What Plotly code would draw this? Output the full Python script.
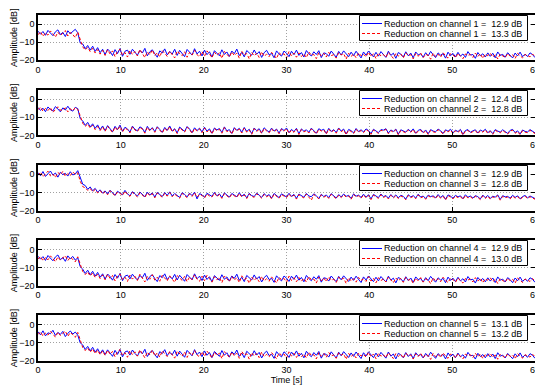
import numpy as np
import plotly.graph_objects as go

# time grid (s)
t = np.round(np.arange(0, 60.0001, 0.3), 2)

ch1_blue = [-3.9,-5.6,-4.1,-6.2,-3.5,-5.0,-6.4,-4.3,-3.2,-5.8,-4.6,-6.9,-3.7,-5.3,-4.0,-2.9,-4.8,
 -10.5,-11.0,-13.6,-11.8,-14.4,-12.2,-15.1,-13.0,-15.8,-13.9,
 -16.9,-13.8,-15.2,-17.4,-14.1,-16.3,-13.5,-17.8,-15.0,-14.4,
 -16.7,-13.9,-15.8,-17.2,-14.6,-16.0,-13.4,-17.5,-15.3,-14.2,
 -16.4,-18.3,-14.8,-15.9,-13.7,-17.0,-15.1,-16.6,-13.9,-17.3,
 -14.5,-16.2,-18.0,-14.0,-15.7,-17.1,-13.6,-16.5,-15.0,-17.6,
 -14.4,-16.9,-15.3,-18.2,-14.7,-16.1,-17.5,-14.2,-16.8,-15.4,
 -17.9,-14.9,-16.3,-13.8,-17.4,-15.6,-18.1,-14.6,-16.0,-17.2,
 -14.3,-16.7,-15.2,-18.4,-15.8,-14.5,-17.0,-16.2,-18.6,-14.8,
 -16.5,-17.7,-14.9,-16.1,-18.0,-15.0,-16.9,-14.4,-17.3,-15.7,
 -18.2,-14.6,-16.4,-17.6,-15.3,-16.8,-14.7,-18.5,-15.9,-16.3,
 -17.8,-14.9,-16.6,-18.3,-15.1,-17.1,-14.8,-16.7,-18.0,-15.5,
 -17.4,-15.0,-16.9,-18.7,-15.4,-17.2,-14.9,-16.5,-18.1,-15.6,
 -17.7,-15.2,-16.8,-18.4,-15.0,-17.3,-16.1,-18.9,-15.7,-16.6,
 -18.2,-15.3,-17.5,-16.0,-18.6,-15.4,-17.0,-16.4,-18.3,-15.8,
 -17.6,-15.1,-16.9,-18.5,-15.9,-17.2,-16.3,-18.8,-15.5,-17.4,
 -16.2,-18.1,-15.6,-17.7,-16.5,-18.4,-15.2,-17.1,-16.8,-18.9,
 -15.7,-17.5,-16.4,-18.2,-15.9,-17.8,-16.1,-18.6,-15.4,-17.3,
 -16.7,-18.3,-15.8,-17.0,-18.7,-16.0,-17.6,-15.5,-18.0,-16.6,
 -17.9,-15.9,-16.8,-18.5]
ch1_red = [-5.9,-4.2,-6.8,-4.9,-6.1,-3.8,-5.5,-7.2,-4.5,-6.3,-5.0,-3.6,-6.6,-4.7,-5.8,-7.5,-4.4,
 -8.0,-12.6,-14.3,-12.9,-15.2,-13.4,-16.0,-14.1,-16.6,-14.5,
 -17.3,-14.2,-16.5,-14.8,-17.9,-15.1,-13.9,-17.0,-15.7,-18.2,
 -14.6,-16.8,-15.2,-17.6,-14.0,-16.3,-18.5,-15.4,-16.9,-14.3,
 -17.4,-15.8,-18.1,-14.7,-16.2,-17.8,-15.0,-16.6,-18.7,-14.9,
 -16.4,-17.5,-15.3,-18.3,-15.6,-17.1,-14.5,-16.9,-18.0,-15.2,
 -17.7,-14.8,-16.5,-18.6,-15.5,-17.2,-15.9,-18.9,-15.1,-16.7,
 -18.2,-15.4,-17.4,-16.0,-18.8,-15.0,-17.0,-16.3,-19.2,-15.7,
 -17.5,-16.1,-18.4,-15.3,-17.8,-16.6,-18.0,-15.6,-17.3,-19.0,
 -15.8,-17.1,-16.4,-18.7,-15.2,-17.6,-16.0,-18.3,-15.9,-17.9,
 -16.5,-18.5,-15.4,-17.2,-16.8,-19.1,-15.7,-17.7,-16.2,-18.2,
 -15.6,-17.4,-16.9,-18.8,-15.8,-17.0,-16.3,-19.3,-16.1,-17.8,
 -16.6,-18.6,-15.9,-17.5,-16.7,-18.1,-15.5,-17.9,-16.4,-19.0,
 -16.0,-17.6,-16.8,-18.4,-15.7,-17.3,-18.9,-16.2,-17.7,-16.5,
 -18.7,-15.9,-17.4,-16.9,-19.2,-16.3,-17.8,-16.0,-18.5,-16.7,
 -17.2,-19.4,-16.1,-17.9,-16.6,-18.3,-15.8,-17.5,-18.8,-16.4,
 -17.0,-18.6,-16.2,-17.7,-19.1,-16.5,-17.3,-16.8,-18.4,-16.0,
 -17.9,-16.4,-18.9,-16.7,-17.4,-16.1,-18.2,-17.0,-19.3,-16.6,
 -17.6,-18.5,-16.3,-17.8,-16.9,-19.0,-16.2,-17.5,-18.7,-16.8,
 -17.3,-18.1,-16.5,-17.9]
ch2_blue = [-4.6,-6.2,-5.0,-6.9,-4.3,-5.7,-6.5,-4.1,-5.4,-7.0,-4.8,-6.0,-3.9,-5.9,-6.6,-4.5,-5.2,
 -10.8,-12.0,-14.5,-12.8,-15.3,-13.6,-16.1,-14.2,-16.9,-14.8,
 -17.4,-14.6,-16.2,-18.0,-15.0,-16.8,-14.3,-17.7,-15.5,-16.4,
 -18.2,-14.9,-16.6,-17.5,-15.3,-16.1,-18.4,-15.0,-17.1,-15.7,
 -17.9,-15.2,-16.7,-18.3,-15.6,-17.2,-14.8,-17.6,-16.3,-18.6,
 -15.4,-16.9,-17.8,-15.1,-16.5,-18.5,-15.8,-17.3,-16.0,-18.1,
 -15.5,-17.7,-16.4,-18.8,-15.9,-17.0,-16.2,-18.4,-15.3,-17.5,
 -16.8,-18.9,-15.7,-17.2,-16.1,-18.3,-15.6,-17.8,-16.6,-19.0,
 -15.9,-17.4,-16.3,-18.6,-15.8,-17.1,-18.2,-16.0,-17.6,-16.5,
 -18.7,-16.2,-17.3,-15.9,-18.5,-16.7,-17.9,-16.1,-19.1,-16.4,
 -17.7,-16.9,-18.3,-16.0,-17.5,-18.8,-16.3,-17.2,-16.6,-18.9,
 -16.1,-17.8,-16.8,-18.4,-15.9,-17.6,-16.5,-19.2,-16.7,-17.4,
 -18.6,-16.2,-17.9,-16.9,-18.1,-16.4,-17.3,-19.0,-16.6,-17.7,
 -18.5,-16.8,-17.1,-16.3,-18.7,-17.0,-17.8,-16.5,-19.3,-16.9,
 -17.5,-18.2,-16.6,-17.9,-16.4,-18.8,-17.2,-16.7,-18.4,-17.0,
 -19.1,-16.8,-17.6,-18.0,-16.5,-17.4,-18.9,-16.9,-17.7,-16.6,
 -18.6,-17.1,-17.9,-16.7,-19.4,-17.3,-16.8,-18.3,-17.5,-16.9,
 -18.7,-17.0,-17.8,-16.6,-18.5,-17.4,-19.0,-16.8,-17.6,-18.2,
 -16.9,-17.7,-18.9,-17.2,-16.7,-18.4,-17.5,-19.2,-17.0,-17.8,
 -18.1,-16.8,-17.6,-18.6]
ch2_red = [-5.8,-4.4,-6.7,-5.1,-6.3,-4.7,-7.3,-5.5,-4.2,-6.1,-5.9,-4.8,-7.0,-5.3,-6.5,-4.6,-5.7,
 -9.2,-13.3,-15.0,-13.7,-15.9,-14.4,-16.8,-15.1,-17.3,-15.4,
 -17.8,-15.0,-16.7,-18.4,-15.4,-17.2,-14.9,-18.1,-16.0,-16.8,
 -18.6,-15.3,-17.0,-17.9,-15.7,-16.5,-18.8,-15.5,-17.5,-16.1,
 -18.3,-15.6,-17.1,-18.7,-16.0,-17.6,-15.2,-18.0,-16.7,-19.0,
 -15.8,-17.3,-18.2,-15.5,-16.9,-18.9,-16.2,-17.7,-16.4,-18.5,
 -15.9,-18.1,-16.8,-19.2,-16.3,-17.4,-16.6,-18.8,-15.7,-17.9,
 -17.2,-19.3,-16.1,-17.6,-16.5,-18.7,-16.0,-18.2,-17.0,-19.4,
 -16.3,-17.8,-16.7,-19.0,-16.2,-17.5,-18.6,-16.4,-18.0,-16.9,
 -19.1,-16.6,-17.7,-16.3,-18.9,-17.1,-18.3,-16.5,-19.5,-16.8,
 -18.1,-17.3,-18.7,-16.4,-17.9,-19.2,-16.7,-17.6,-17.0,-19.3,
 -16.5,-18.2,-17.2,-18.8,-16.3,-18.0,-16.9,-19.6,-17.1,-17.8,
 -19.0,-16.6,-18.3,-17.3,-18.5,-16.8,-17.7,-19.4,-17.0,-18.1,
 -18.9,-17.2,-17.5,-16.7,-19.1,-17.4,-18.2,-16.9,-19.7,-17.3,
 -17.9,-18.6,-17.0,-18.3,-16.8,-19.2,-17.6,-17.1,-18.8,-17.4,
 -19.5,-17.2,-18.0,-18.4,-16.9,-17.8,-19.3,-17.3,-18.1,-17.0,
 -19.0,-17.5,-18.3,-17.1,-19.8,-17.7,-17.2,-18.7,-17.9,-17.3,
 -19.1,-17.4,-18.2,-17.0,-18.9,-17.8,-19.4,-17.2,-18.0,-18.6,
 -17.3,-18.1,-19.3,-17.6,-17.1,-18.8,-17.9,-19.6,-17.4,-18.2,
 -18.5,-17.2,-18.0,-19.0]
ch3_blue = [0.9,-0.8,1.5,-1.2,0.3,1.8,-0.5,0.7,-1.6,1.1,-0.2,0.5,-1.0,1.4,-0.4,0.2,2.0,
 -2.0,-5.5,-6.2,-8.3,-7.0,-9.1,-7.8,-9.9,-8.6,-10.4,
 -9.2,-10.9,-8.8,-10.5,-11.6,-9.4,-10.2,-11.3,-8.9,-10.8,
 -11.9,-9.6,-10.7,-12.1,-9.8,-11.0,-12.4,-9.9,-11.4,-10.3,
 -12.6,-10.0,-11.2,-12.3,-10.1,-11.7,-9.7,-12.0,-10.6,-11.5,
 -12.8,-10.2,-11.1,-12.5,-10.4,-11.8,-9.9,-13.6,-10.7,-11.3,
 -12.7,-10.5,-11.6,-12.2,-10.0,-11.9,-10.8,-12.9,-10.3,-11.4,
 -12.6,-10.6,-11.7,-12.4,-10.2,-12.1,-11.0,-13.0,-10.5,-11.8,
 -12.3,-10.4,-11.5,-12.8,-10.7,-12.0,-11.2,-13.2,-10.6,-11.6,
 -12.9,-10.8,-11.9,-12.5,-10.5,-12.2,-11.1,-13.3,-10.9,-11.7,
 -12.7,-10.6,-12.0,-12.4,-10.8,-11.8,-13.5,-11.0,-12.3,-11.4,
 -12.9,-10.7,-11.9,-13.1,-11.2,-12.5,-10.9,-12.2,-11.6,-13.4,
 -10.8,-12.1,-11.5,-12.8,-11.0,-12.6,-11.3,-13.6,-11.1,-12.0,
 -12.9,-10.9,-12.4,-11.7,-13.2,-11.2,-12.7,-11.4,-13.0,-11.6,
 -12.2,-13.7,-11.3,-12.5,-11.8,-13.1,-11.0,-12.6,-12.0,-13.4,
 -11.5,-12.3,-11.9,-13.0,-11.2,-12.8,-11.7,-13.8,-11.4,-12.1,
 -13.2,-11.6,-12.5,-11.9,-13.5,-11.3,-12.7,-12.0,-13.1,-11.8,
 -12.4,-13.6,-11.5,-12.9,-11.7,-13.3,-12.1,-12.6,-11.4,-13.9,
 -11.8,-12.5,-12.2,-13.2,-11.6,-12.8,-11.9,-13.5,-12.3,-11.7,
 -13.0,-12.0,-12.6,-13.4]
ch3_red = [-0.6,1.2,-1.4,0.5,1.7,-0.9,0.1,-1.8,1.0,-0.3,1.6,-1.1,0.4,-0.7,1.3,-0.1,0.8,
 -3.9,-6.8,-7.5,-8.9,-7.9,-9.6,-8.4,-10.3,-9.0,-10.8,
 -9.6,-11.3,-9.1,-10.8,-11.9,-9.8,-10.5,-11.7,-9.3,-11.1,
 -12.2,-10.0,-11.0,-12.5,-10.2,-11.4,-12.8,-10.3,-11.8,-10.7,
 -13.0,-10.4,-11.6,-12.7,-10.5,-12.1,-10.1,-12.4,-11.0,-11.9,
 -13.2,-10.6,-11.5,-12.9,-10.8,-12.2,-10.3,-12.6,-11.1,-11.7,
 -13.1,-10.9,-12.0,-12.6,-10.4,-12.3,-11.2,-13.3,-10.7,-11.8,
 -13.0,-11.0,-12.1,-12.8,-10.6,-12.5,-11.4,-13.4,-10.9,-12.2,
 -12.7,-10.8,-11.9,-13.2,-11.1,-12.4,-11.6,-13.6,-11.0,-12.0,
 -13.3,-11.2,-12.3,-12.9,-10.9,-12.6,-11.5,-13.7,-11.3,-12.1,
 -13.1,-11.0,-12.4,-14.3,-11.2,-12.2,-13.5,-11.4,-12.7,-11.8,
 -13.3,-11.1,-12.3,-13.5,-11.6,-12.9,-11.3,-12.6,-12.0,-13.8,
 -11.2,-12.5,-11.9,-13.2,-11.4,-13.0,-11.7,-14.0,-11.5,-12.4,
 -13.3,-11.3,-12.8,-12.1,-13.6,-11.6,-13.1,-11.8,-13.4,-12.0,
 -12.6,-14.1,-11.7,-12.9,-12.2,-13.5,-11.4,-13.0,-12.4,-13.8,
 -11.9,-12.7,-12.3,-13.4,-11.6,-13.2,-12.1,-14.2,-11.8,-12.5,
 -13.6,-12.0,-12.9,-12.3,-13.9,-11.7,-13.1,-12.4,-13.5,-12.2,
 -12.8,-14.0,-11.9,-13.3,-12.1,-13.7,-12.5,-13.0,-11.8,-14.3,
 -12.2,-12.9,-12.6,-13.6,-12.0,-13.2,-12.3,-13.9,-12.7,-12.1,
 -13.4,-12.4,-13.0,-13.8]
ch4_blue = [-3.8,-5.4,-4.0,-6.1,-3.4,-4.9,-6.3,-4.2,-3.1,-5.7,-4.5,-6.6,-3.6,-5.2,-3.9,-5.9,-4.7,
 -9.6,-10.9,-13.3,-11.5,-14.0,-12.1,-14.8,-12.7,-15.4,-13.5,
 -16.4,-13.6,-15.0,-17.0,-13.9,-15.9,-13.3,-17.3,-14.8,-14.2,
 -16.3,-13.7,-15.5,-16.9,-14.4,-15.7,-13.2,-17.1,-15.0,-14.0,
 -16.1,-17.8,-14.5,-15.6,-13.5,-16.7,-14.9,-16.3,-13.8,-16.9,
 -14.3,-15.9,-17.6,-13.9,-15.4,-16.8,-13.5,-16.2,-14.8,-17.2,
 -14.2,-16.6,-15.1,-17.9,-14.5,-15.8,-17.1,-14.0,-16.5,-15.2,
 -17.5,-14.7,-16.0,-13.7,-17.1,-15.4,-17.8,-14.4,-15.8,-16.9,
 -14.1,-16.4,-15.0,-18.0,-15.6,-14.3,-16.7,-16.0,-18.2,-14.6,
 -16.2,-17.4,-14.7,-15.9,-17.7,-14.8,-16.6,-14.2,-17.0,-15.5,
 -17.9,-14.4,-16.1,-17.3,-15.1,-16.5,-14.5,-18.1,-15.7,-16.0,
 -17.5,-14.7,-16.3,-17.9,-14.9,-16.8,-14.6,-16.4,-17.7,-15.3,
 -17.1,-14.8,-16.6,-18.3,-15.2,-16.9,-14.7,-16.2,-17.8,-15.4,
 -17.4,-15.0,-16.5,-18.0,-14.8,-17.0,-15.9,-18.5,-15.5,-16.3,
 -17.9,-15.1,-17.2,-15.8,-18.2,-15.2,-16.7,-16.1,-18.0,-15.6,
 -17.3,-14.9,-16.6,-18.1,-15.7,-16.9,-16.0,-18.4,-15.3,-17.1,
 -15.9,-17.8,-15.4,-17.4,-16.2,-18.0,-15.0,-16.8,-16.5,-18.6,
 -15.5,-17.2,-16.1,-17.9,-15.7,-17.5,-15.8,-18.3,-15.2,-17.0,
 -16.4,-18.0,-15.6,-16.7,-18.4,-15.8,-17.3,-15.3,-17.7,-16.3,
 -17.6,-15.7,-16.5,-18.2]
ch4_red = [-5.4,-3.9,-6.3,-4.5,-5.8,-3.6,-5.1,-6.8,-4.2,-5.9,-4.7,-3.5,-6.2,-4.4,-5.5,-6.9,-4.1,
 -7.7,-12.2,-13.9,-12.5,-14.7,-13.0,-15.5,-13.7,-16.1,-14.1,
 -16.8,-13.9,-16.0,-14.4,-17.4,-14.7,-13.6,-16.6,-15.3,-17.7,
 -14.3,-16.4,-14.8,-17.2,-13.7,-15.9,-18.0,-15.0,-16.5,-14.0,
 -17.0,-15.4,-17.6,-14.3,-15.8,-17.4,-14.6,-16.2,-18.2,-14.5,
 -16.0,-17.1,-14.9,-17.8,-15.2,-16.7,-14.1,-16.5,-17.6,-14.8,
 -17.3,-14.4,-16.1,-18.1,-15.1,-16.8,-15.5,-18.4,-14.7,-16.3,
 -17.8,-15.0,-17.0,-15.6,-18.3,-14.6,-16.6,-15.9,-18.7,-15.3,
 -17.1,-15.7,-17.9,-14.9,-17.4,-16.2,-17.6,-15.2,-16.9,-18.5,
 -15.4,-16.7,-16.0,-18.2,-14.8,-17.2,-15.6,-17.9,-15.5,-17.5,
 -16.1,-18.0,-15.0,-16.8,-16.4,-18.6,-15.3,-17.3,-15.8,-17.8,
 -15.2,-17.0,-16.5,-18.3,-15.4,-16.6,-15.9,-18.8,-15.7,-17.4,
 -16.2,-18.1,-15.5,-17.1,-16.3,-17.7,-15.1,-17.5,-16.0,-18.5,
 -15.6,-17.2,-16.4,-18.0,-15.3,-16.9,-18.4,-15.8,-17.3,-16.1,
 -18.2,-15.5,-17.0,-16.5,-18.7,-15.9,-17.4,-15.6,-18.1,-16.3,
 -16.8,-18.9,-15.7,-17.5,-16.2,-17.9,-15.4,-17.1,-18.3,-16.0,
 -16.6,-18.2,-15.8,-17.3,-18.6,-16.1,-16.9,-16.4,-18.0,-15.6,
 -17.5,-16.0,-18.4,-16.3,-17.0,-15.7,-17.8,-16.6,-18.8,-16.2,
 -17.2,-18.1,-15.9,-17.4,-16.5,-18.6,-15.8,-17.1,-18.3,-16.4,
 -16.9,-17.7,-16.1,-17.5]
ch5_blue = [-4.0,-5.7,-3.5,-6.3,-4.6,-5.1,-3.2,-6.0,-4.4,-5.5,-3.8,-6.7,-4.9,-3.6,-5.3,-4.2,-5.9,
 -10.2,-11.3,-13.8,-12.1,-14.6,-12.6,-15.3,-13.4,-16.0,-14.0,
 -16.6,-14.0,-15.5,-17.6,-14.3,-16.5,-13.8,-17.9,-15.2,-14.6,
 -16.9,-14.1,-16.0,-17.4,-14.8,-16.2,-13.7,-17.7,-15.5,-14.4,
 -16.6,-18.4,-15.0,-16.1,-13.9,-17.2,-15.3,-16.8,-14.2,-17.5,
 -14.7,-16.4,-18.1,-14.3,-15.9,-17.3,-13.9,-16.7,-15.2,-17.8,
 -14.6,-17.0,-15.5,-18.3,-14.9,-16.3,-17.6,-14.4,-17.0,-15.6,
 -18.0,-15.1,-16.5,-14.1,-17.6,-15.8,-18.3,-14.8,-16.2,-17.4,
 -14.5,-16.9,-15.4,-18.5,-16.0,-14.7,-17.2,-16.4,-18.7,-15.0,
 -16.7,-17.9,-15.1,-16.3,-18.2,-15.2,-17.1,-14.6,-17.5,-15.9,
 -18.4,-14.8,-16.6,-17.8,-15.5,-17.0,-14.9,-18.6,-16.1,-16.5,
 -18.0,-15.1,-16.8,-18.5,-15.3,-17.3,-15.0,-16.9,-18.2,-15.7,
 -17.6,-15.2,-17.1,-18.8,-15.6,-17.4,-15.1,-16.7,-18.3,-15.8,
 -17.9,-15.4,-17.0,-18.6,-15.2,-17.5,-16.3,-19.0,-15.9,-16.8,
 -18.4,-15.5,-17.7,-16.2,-18.8,-15.6,-17.2,-16.6,-18.5,-16.0,
 -17.8,-15.3,-17.1,-18.7,-16.1,-17.4,-16.5,-19.0,-15.7,-17.6,
 -16.4,-18.3,-15.8,-17.9,-16.7,-18.6,-15.4,-17.3,-17.0,-19.1,
 -15.9,-17.7,-16.6,-18.4,-16.1,-18.0,-16.3,-18.8,-15.6,-17.5,
 -16.9,-18.5,-16.0,-17.2,-18.9,-16.2,-17.8,-15.7,-18.2,-16.8,
 -18.1,-16.1,-17.0,-18.7]
ch5_red = [-5.5,-4.1,-6.4,-4.7,-5.9,-3.8,-5.2,-7.0,-4.3,-6.1,-4.9,-3.7,-6.5,-4.5,-5.6,-7.1,-4.4,
 -8.4,-12.7,-14.4,-13.0,-15.3,-13.5,-16.1,-14.2,-16.7,-14.6,
 -17.1,-14.3,-16.4,-14.9,-17.8,-15.0,-13.9,-16.9,-15.6,-18.1,
 -14.5,-16.7,-15.1,-17.5,-14.0,-16.2,-18.4,-15.3,-16.8,-14.2,
 -17.3,-15.7,-18.0,-14.6,-16.1,-17.7,-14.9,-16.5,-18.6,-14.8,
 -16.3,-17.4,-15.2,-18.2,-15.5,-17.0,-14.4,-16.8,-17.9,-15.1,
 -17.6,-14.7,-16.4,-18.5,-15.4,-17.1,-15.8,-18.8,-15.0,-16.6,
 -18.1,-15.3,-17.3,-15.9,-18.7,-14.9,-16.9,-16.2,-19.1,-15.6,
 -17.4,-16.0,-18.3,-15.2,-17.7,-16.5,-17.9,-15.5,-17.2,-18.9,
 -15.7,-17.0,-16.3,-18.6,-15.1,-17.5,-15.9,-18.2,-15.8,-17.8,
 -16.4,-18.4,-15.3,-17.1,-16.7,-19.0,-15.6,-17.6,-16.1,-18.1,
 -15.5,-17.3,-16.8,-18.7,-15.7,-16.9,-16.2,-19.2,-16.0,-17.7,
 -16.5,-18.5,-15.8,-17.4,-16.6,-18.0,-15.4,-17.8,-16.3,-18.9,
 -15.9,-17.5,-16.7,-18.3,-15.6,-17.2,-18.8,-16.1,-17.6,-16.4,
 -18.6,-15.8,-17.3,-16.8,-19.1,-16.2,-17.7,-15.9,-18.4,-16.6,
 -17.1,-19.3,-16.0,-17.8,-16.5,-18.2,-15.7,-17.4,-18.7,-16.3,
 -16.9,-18.5,-16.1,-17.6,-19.0,-16.4,-17.2,-16.7,-18.3,-15.9,
 -17.8,-16.3,-18.8,-16.6,-17.3,-16.0,-18.1,-16.9,-19.2,-16.5,
 -17.5,-18.4,-16.2,-17.7,-16.8,-18.9,-16.1,-17.4,-18.6,-16.7,
 -17.2,-18.0,-16.4,-17.8]

blue_series = [ch1_blue, ch2_blue, ch3_blue, ch4_blue, ch5_blue]
red_series = [ch1_red, ch2_red, ch3_red, ch4_red, ch5_red]
blue_reduction = [12.9, 12.4, 12.9, 12.9, 13.1]
red_reduction = [13.3, 12.8, 12.8, 13.0, 13.2]
x_ticks = [0, 10, 20, 30, 40, 50, 60]
y_ticks = [0, -10, -20]

W, H = 535, 388
L = 38
PW = W - L
tops_px = [15, 90.1, 165.2, 240.3, 315.4]
h_px = 45.3
FONT = "Liberation Sans, Arial, Helvetica, sans-serif"
FS = 9


def px_x(px):
    return (px - L) / PW


def px_y(py):
    return 1 - py / H


fig = go.Figure()
layout = dict(
    width=W, height=H,
    margin=dict(l=L, r=0, t=0, b=0),
    paper_bgcolor="white", plot_bgcolor="white",
    font=dict(family=FONT, size=FS, color="black"),
    showlegend=False,
)
shapes = []
annotations = []

for k in range(5):
    n = "" if k == 0 else str(k + 1)
    xa = "x" + n
    ya = "y" + n
    name_b = "Reduction on channel %d =\u00a0 %.1f dB" % (k + 1, blue_reduction[k])
    name_r = "Reduction on channel %d =\u00a0 %.1f dB" % (k + 1, red_reduction[k])
    fig.add_trace(go.Scatter(x=t, y=blue_series[k], mode="lines", xaxis=xa, yaxis=ya,
                             line=dict(color="#0000ff", width=1), name=name_b))
    fig.add_trace(go.Scatter(x=t, y=red_series[k], mode="lines", xaxis=xa, yaxis=ya,
                             line=dict(color="#ff0000", width=1, dash="3px,2px"), name=name_r))
    top = px_y(tops_px[k])
    bot = px_y(tops_px[k] + h_px)
    layout["xaxis" + n] = dict(
        domain=[0, 1], range=[0, 60], anchor=ya, tickvals=x_ticks,
        ticks="inside", ticklen=4, tickwidth=1, tickcolor="black",
        showline=True, linecolor="black", linewidth=1.5, mirror="allticks",
        showgrid=True, gridcolor="#a0a0a0", griddash="1px,2px", gridwidth=1,
        zeroline=False, tickfont=dict(size=FS), automargin=False,
        ticklabeloverflow="allow",
        title=dict(text="Time [s]" if k == 4 else "", font=dict(size=FS), standoff=0),
    )
    layout["yaxis" + n] = dict(
        domain=[bot, top], range=[-20, 5], anchor=xa, tickvals=y_ticks,
        ticks="inside", ticklen=4, tickwidth=1, tickcolor="black",
        showline=True, linecolor="black", linewidth=1.5, mirror="allticks",
        showgrid=True, gridcolor="#a0a0a0", griddash="1px,2px", gridwidth=1,
        zeroline=False, tickfont=dict(size=FS), automargin=False,
        title=dict(text="Amplitude [dB]", font=dict(size=FS), standoff=0),
    )
    # legend box (drawn like the MATLAB legend), snapped to pixel centres
    y0 = round(tops_px[k]) + 0.5
    shapes.append(dict(type="rect", xref="paper", yref="paper",
                       x0=px_x(359.5), x1=px_x(527.5), y0=px_y(y0), y1=px_y(y0 + 25),
                       fillcolor="white", line=dict(color="black", width=1), layer="above"))
    for j, (nm, col, dash) in enumerate([(name_b, "#0000ff", "solid"), (name_r, "#ff0000", "3px,2px")]):
        yc = y0 + 8 + 10 * j
        shapes.append(dict(type="line", xref="paper", yref="paper",
                           x0=px_x(362), x1=px_x(382), y0=px_y(yc), y1=px_y(yc),
                           line=dict(color=col, width=1, dash=dash), layer="above"))
        annotations.append(dict(xref="paper", yref="paper", x=px_x(383), y=px_y(yc),
                                xanchor="left", yanchor="middle", showarrow=False,
                                text=nm, font=dict(size=FS, color="black"), borderpad=0))

layout["shapes"] = shapes
layout["annotations"] = annotations
fig.update_layout(**layout)
fig.write_html("out.html")
